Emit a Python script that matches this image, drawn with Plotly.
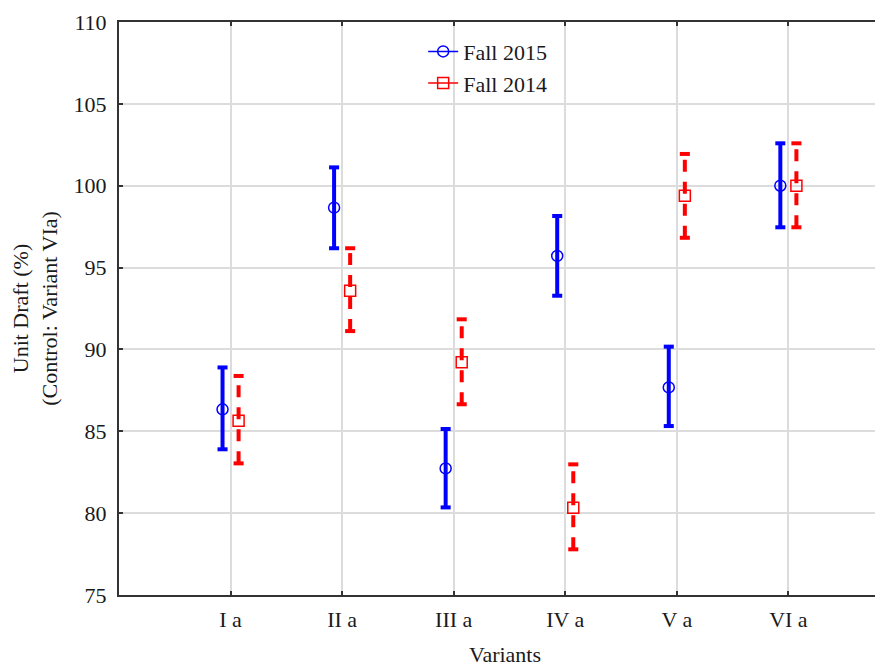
import plotly.graph_objects as go

categories = ["I a", "II a", "III a", "IV a", "V a", "VI a"]

fall2015_mean = [86.34, 98.66, 82.73, 95.71, 87.68, 100.0]
fall2015_low = [83.9, 96.18, 80.35, 93.28, 85.32, 97.46]
fall2015_high = [88.9, 101.12, 85.14, 98.15, 90.17, 102.59]

fall2014_mean = [85.64, 93.59, 89.21, 80.33, 99.39, 100.0]
fall2014_low = [83.04, 91.12, 86.65, 77.79, 96.82, 97.46]
fall2014_high = [88.38, 96.18, 91.84, 82.98, 101.94, 102.59]

y_ticks = [75, 80, 85, 90, 95, 100, 105, 110]

FONT = "Liberation Serif"
OFFSET = 0.072
CAP = 0.045

fig = go.Figure()


def add_series(name, means, lows, highs, color, offset, dash, symbol):
    xs = [i + 1 + offset for i in range(len(categories))]
    vx, vy, cx, cy = [], [], [], []
    for x, lo, hi in zip(xs, lows, highs):
        vx += [x, x, None]
        vy += [lo, hi, None]
        cx += [x - CAP, x + CAP, None, x - CAP, x + CAP, None]
        cy += [lo, lo, None, hi, hi, None]
    fig.add_trace(go.Scatter(x=vx, y=vy, mode="lines", showlegend=False,
                             hoverinfo="skip",
                             line=dict(color=color, width=4, dash=dash)))
    fig.add_trace(go.Scatter(x=cx, y=cy, mode="lines", showlegend=False,
                             hoverinfo="skip",
                             line=dict(color=color, width=4)))
    fig.add_trace(go.Scatter(x=xs, y=means, mode="markers", showlegend=False,
                             name=name,
                             marker=dict(symbol=symbol, size=11, color=color,
                                         line=dict(width=1.5, color=color))))
    fig.add_trace(go.Scatter(x=[None], y=[None], mode="lines+markers", name=name,
                             line=dict(color=color, width=1.5),
                             marker=dict(symbol=symbol, size=11, color=color,
                                         line=dict(width=1.5, color=color))))


add_series("Fall 2015", fall2015_mean, fall2015_low, fall2015_high,
           "#0000ff", -OFFSET, "solid", "circle-open")
add_series("Fall 2014", fall2014_mean, fall2014_low, fall2014_high,
           "#ff0000", OFFSET, "12px,10px", "square-open")

fig.update_layout(
    width=883, height=666,
    margin=dict(l=111, r=0, t=14, b=79),
    paper_bgcolor="white", plot_bgcolor="white",
    font=dict(family=FONT, size=22, color="#1a1a1a"),
    legend=dict(x=0.394, y=0.985, xanchor="left", yanchor="top",
                bgcolor="rgba(0,0,0,0)", borderwidth=0,
                font=dict(family=FONT, size=22, color="#1a1a1a"),
                tracegroupgap=0, itemwidth=30),
    showlegend=True,
)

fig.update_xaxes(
    range=[0, 6.92], automargin=False,
    tickmode="array", tickvals=[i + 1 for i in range(len(categories))],
    ticktext=categories,
    showgrid=True, gridcolor="#dcdcdc", gridwidth=1.5,
    showline=True, linecolor="#333333", linewidth=2, mirror="ticks",
    ticks="inside", ticklen=4, tickcolor="#333333", tickwidth=1.5,
    ticklabelstandoff=4,
    zeroline=False,
    title=dict(text="Variants", font=dict(family=FONT, size=22), standoff=15),
    tickfont=dict(family=FONT, size=22),
)

fig.update_yaxes(
    range=[75, 110], automargin=False,
    tickmode="array", tickvals=y_ticks,
    showgrid=True, gridcolor="#dcdcdc", gridwidth=1.5,
    showline=True, linecolor="#333333", linewidth=2, mirror=False,
    ticks="inside", ticklen=4, tickcolor="#333333", tickwidth=1.5,
    ticklabelstandoff=6,
    zeroline=False,
    title=dict(text="Unit Draft (%)<br>(Control: Variant VIa)",
               font=dict(family=FONT, size=22), standoff=14),
    tickfont=dict(family=FONT, size=22),
)

fig.write_html("out.html")
